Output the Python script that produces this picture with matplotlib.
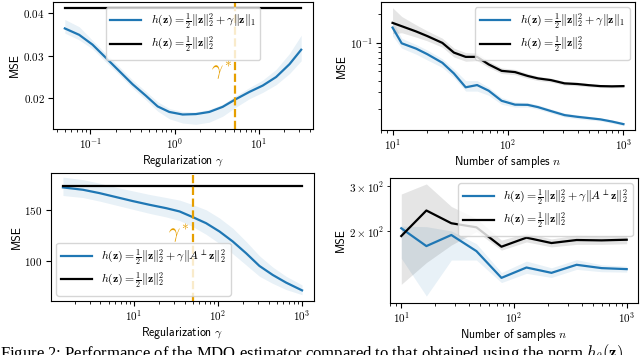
import numpy as np
import matplotlib
matplotlib.use("Agg")
import matplotlib.pyplot as plt
from matplotlib.ticker import MultipleLocator, FuncFormatter, NullFormatter

plt.rcParams['font.family'] = ['cmr10', 'DejaVu Serif']
plt.rcParams['mathtext.fontset'] = 'cm'
plt.rcParams['axes.formatter.use_mathtext'] = True
plt.rcParams['font.size'] = 8
plt.rcParams['axes.labelpad'] = 1.5
plt.rcParams['xtick.major.pad'] = 2.0
plt.rcParams['ytick.major.pad'] = 2.5
plt.rcParams['ytick.minor.pad'] = 2.5

BLUE = '#1f77b4'
ORANGE = '#E69F00'

# ---- top-left: Regularization gamma (L1) ----
tl_gamma = 10 ** np.array([-1.301, -1.131, -0.973, -0.814, -0.656, -0.498, -0.340, -0.201,
                           -0.063, 0.095, 0.253, 0.411, 0.570, 0.716, 0.886, 1.045, 1.203,
                           1.361, 1.5])
tl_mse = [0.0364, 0.0349, 0.0326, 0.0295, 0.0264, 0.0233, 0.0206, 0.0181, 0.0168, 0.0162,
          0.0163, 0.0168, 0.0180, 0.0197, 0.0215, 0.0230, 0.0250, 0.0280, 0.0314]
tl_upper = [0.0385, 0.0368, 0.0336, 0.0305, 0.0274, 0.0243, 0.0216, 0.0192, 0.0176, 0.0169,
            0.0168, 0.0174, 0.0186, 0.0205, 0.0225, 0.0243, 0.0268, 0.0305, 0.0348]
tl_lower = [0.0353, 0.0337, 0.0316, 0.0285, 0.0255, 0.0224, 0.0196, 0.0170, 0.0152, 0.0142,
            0.0139, 0.0144, 0.0158, 0.0178, 0.0199, 0.0214, 0.0232, 0.0258, 0.0288]
tl_baseline = 0.0411
tl_gamma_star = 5.2

# ---- bottom-left: Regularization gamma (A-perp) ----
bl_gamma = 10 ** np.array([0.156, 0.394, 0.592, 0.79, 0.988, 1.186, 1.384, 1.543, 1.701,
                           1.859, 2.018, 2.176, 2.335, 2.493, 2.651, 2.81, 3.0])
bl_mse = [171.9, 169.6, 166.3, 162.4, 158.5, 154.9, 151.6, 148.4, 142.8, 136.9, 128.8,
          119.0, 107.5, 95.1, 86.3, 78.8, 71.2]
bl_upper = [182.0, 179.5, 176.0, 172.0, 168.5, 165.0, 162.0, 159.5, 155.0, 150.0, 142.0,
            132.0, 119.0, 105.0, 94.0, 85.0, 76.5]
bl_lower = [164.0, 162.0, 158.5, 154.5, 150.5, 146.5, 143.0, 139.5, 133.5, 126.0, 117.0,
            107.0, 96.0, 85.0, 78.0, 72.0, 67.0]
bl_baseline = 172.8
bl_gamma_star = 50

# ---- top-right: number of samples (L1) ----
tr_n = [10, 12, 16, 20, 27, 34, 43, 54, 68, 88, 115, 148, 182, 235, 309, 398, 501, 631, 794, 1000]
tr_blue = [0.145, 0.099, 0.087, 0.076, 0.0617, 0.0476, 0.034, 0.0359, 0.0313, 0.0245, 0.0223,
           0.0222, 0.0210, 0.0191, 0.0173, 0.0166, 0.0161, 0.0156, 0.0148, 0.0139]
tr_blue_up = [0.170, 0.112, 0.096, 0.084, 0.068, 0.053, 0.040, 0.040, 0.034, 0.0265, 0.0238,
              0.0235, 0.0222, 0.0201, 0.0182, 0.0174, 0.0168, 0.0162, 0.0154, 0.0144]
tr_blue_lo = [0.118, 0.088, 0.076, 0.066, 0.055, 0.043, 0.031, 0.031, 0.028, 0.0225, 0.0210,
              0.0210, 0.0199, 0.0182, 0.0165, 0.0158, 0.0154, 0.0150, 0.0142, 0.0134]
tr_black = [0.1626, 0.150, 0.132, 0.118, 0.100, 0.079, 0.0712, 0.0712, 0.0593, 0.0507, 0.0492,
            0.0448, 0.0422, 0.0405, 0.0374, 0.0368, 0.0358, 0.0350, 0.0348, 0.0350]
tr_black_up = [0.235, 0.190, 0.155, 0.134, 0.112, 0.088, 0.079, 0.078, 0.064, 0.0545, 0.0525,
               0.0475, 0.0445, 0.0425, 0.0392, 0.0385, 0.0372, 0.0362, 0.0360, 0.0360]
tr_black_lo = [0.125, 0.128, 0.115, 0.105, 0.090, 0.071, 0.064, 0.065, 0.055, 0.0475, 0.0462,
               0.0422, 0.0400, 0.0386, 0.0358, 0.0352, 0.0344, 0.0338, 0.0336, 0.0338]

# ---- bottom-right: number of samples (A-perp) ----
br_n = [10, 16.7, 27.8, 46.4, 77.4, 129, 215, 359, 599, 1000]
br_blue = [205, 174.3, 192.8, 166.5, 130.5, 143.4, 136.6, 147, 142.6, 141.3]
br_blue_up = [209, 208, 200, 178, 137, 152, 143, 154, 147, 145]
br_blue_lo = [156, 110.6, 153.5, 153.5, 125, 136, 131, 141, 138, 137.5]
br_black = [191, 241, 214.6, 206.8, 173.3, 188.2, 179.2, 184.2, 183.6, 184.7]
br_black_up = [280, 307, 250, 224, 184, 196, 186, 193, 191, 192]
br_black_lo = [123, 150, 176, 199, 168, 181, 173, 177, 177, 178]

leg_l1 = r'$h(\mathbf{z}) = \frac{1}{2}\Vert\mathbf{z}\Vert_2^2 + \gamma\Vert\mathbf{z}\Vert_1$'
leg_perp = r'$h(\mathbf{z}) = \frac{1}{2}\Vert\mathbf{z}\Vert_2^2 + \gamma\Vert A^{\perp}\mathbf{z}\Vert_2^2$'
leg_l2 = r'$h(\mathbf{z}) = \frac{1}{2}\Vert\mathbf{z}\Vert_2^2$'

W, H = 640, 355
fig = plt.figure(figsize=(W / 100, H / 100), dpi=100)


def box(l, r, t, b):
    return [l / W, 1 - b / H, (r - l) / W, (b - t) / H]


ax1 = fig.add_axes(box(53, 313, 2, 129))
ax2 = fig.add_axes(box(381, 635, 2, 130))
ax3 = fig.add_axes(box(51, 314, 173, 301))
ax4 = fig.add_axes(box(390, 638, 178, 303))

lw = 1.6
sans = 'cmss10'
legkw = dict(fontsize=8.5, handlelength=2.6, labelspacing=0.25, borderaxespad=0.45)

# top-left
ax1.set_xscale('log')
ax1.fill_between(tl_gamma, tl_lower, tl_upper, color=BLUE, alpha=0.1, lw=0)
ax1.plot(tl_gamma, tl_mse, color=BLUE, lw=lw, label=leg_l1)
ax1.plot([tl_gamma[0], tl_gamma[-1]], [tl_baseline, tl_baseline], color='black', lw=lw, label=leg_l2)
ax1.axvline(tl_gamma_star, color=ORANGE, ls='--', lw=lw)
ax1.text(tl_gamma_star * 0.93, 0.0262, r'$\gamma^*$', color=ORANGE, fontsize=14, ha='right', va='center')
ax1.set_ylim(0.0128, 0.0426)
ax1.yaxis.set_major_locator(MultipleLocator(0.01))
ax1.set_ylabel('MSE', family=sans, fontsize=8.5)
ax1.set_xlabel(r'Regularization $\gamma$', family=sans, fontsize=8.5)
ax1.legend(loc='upper center', **legkw)

# top-right
ax2.set_xscale('log')
ax2.set_yscale('log')
ax2.fill_between(tr_n, tr_blue_lo, tr_blue_up, color=BLUE, alpha=0.1, lw=0)
ax2.fill_between(tr_n, tr_black_lo, tr_black_up, color='black', alpha=0.1, lw=0)
ax2.plot(tr_n, tr_blue, color=BLUE, lw=lw, label=leg_l1)
ax2.plot(tr_n, tr_black, color='black', lw=lw, label=leg_l2)
ax2.set_ylim(0.01205, 0.27)
ax2.yaxis.set_minor_formatter(NullFormatter())
ax2.set_ylabel('MSE', family=sans, fontsize=8.5)
ax2.set_xlabel(r'Number of samples $n$', family=sans, fontsize=8.5)
ax2.legend(loc='upper right', **legkw)

# bottom-left
ax3.set_xscale('log')
ax3.fill_between(bl_gamma, bl_lower, bl_upper, color=BLUE, alpha=0.1, lw=0)
ax3.plot(bl_gamma, bl_mse, color=BLUE, lw=lw, label=leg_perp)
ax3.plot([bl_gamma[0], bl_gamma[-1]], [bl_baseline, bl_baseline], color='black', lw=lw, label=leg_l2)
ax3.axvline(bl_gamma_star, color=ORANGE, ls='--', lw=lw)
ax3.text(bl_gamma_star * 0.93, 126, r'$\gamma^*$', color=ORANGE, fontsize=14, ha='right', va='center')
ax3.set_ylim(60.8, 186)
ax3.yaxis.set_major_locator(MultipleLocator(50))
ax3.set_ylabel('MSE', family=sans, fontsize=8.5)
ax3.set_xlabel(r'Regularization $\gamma$', family=sans, fontsize=8.5)
ax3.legend(loc='lower left', **legkw)

# bottom-right
ax4.set_xscale('log')
ax4.set_yscale('log')
ax4.fill_between(br_n, br_blue_lo, br_blue_up, color=BLUE, alpha=0.1, lw=0)
ax4.fill_between(br_n, br_black_lo, br_black_up, color='black', alpha=0.1, lw=0)
ax4.plot(br_n, br_blue, color=BLUE, lw=lw, label=leg_perp)
ax4.plot(br_n, br_black, color='black', lw=lw, label=leg_l2)
ax4.set_ylim(103.8, 324)


def br_fmt(v, pos):
    for m in (2, 3):
        if abs(v - m * 100) < 1e-6:
            return r'$%d\times10^{2}$' % m
    return ''


ax4.yaxis.set_minor_formatter(FuncFormatter(br_fmt))
ax4.yaxis.set_major_formatter(NullFormatter())
ax4.set_ylabel('MSE', family=sans, fontsize=8.5)
ax4.set_xlabel(r'Number of samples $n$', family=sans, fontsize=8.5)
ax4.legend(loc='upper right', **legkw)

fig.text(0.0, 1 - 342 / H, r'Figure 2: Performance of the MDO estimator compared to that obtained using the norm $h_\theta(\mathbf{z})$',
         family='Liberation Serif', fontsize=12, va='top', ha='left')

fig.savefig('out.png', dpi=100)
